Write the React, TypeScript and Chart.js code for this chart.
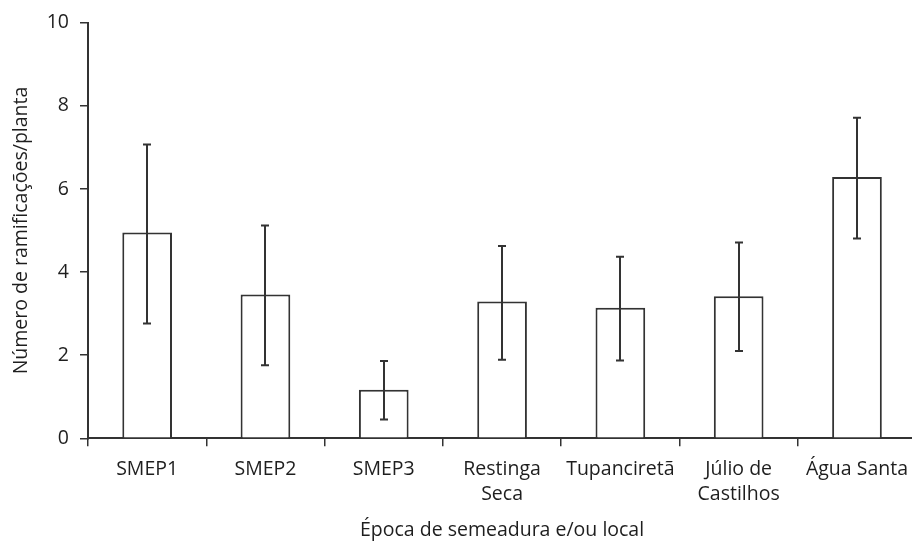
import React, { useEffect, useRef } from "react";
import { Chart, registerables } from "chart.js";

Chart.register(...registerables);

// Branch count per plant, by sowing date / location
const categories: (string | string[])[] = [
  "SMEP1",
  "SMEP2",
  "SMEP3",
  ["Restinga", "Seca"],
  "Tupanciretã",
  ["Júlio de", "Castilhos"],
  "Água Santa",
];
const means = [4.95, 3.46, 1.17, 3.29, 3.14, 3.42, 6.29];
const errUpper = [7.07, 5.12, 1.86, 4.63, 4.37, 4.71, 7.71];
const errLower = [2.76, 1.76, 0.45, 1.89, 1.87, 2.1, 4.81];
const yTicks = [0, 2, 4, 6, 8, 10];

const INK = "#333333";
const TEXT = "#1e1e1e";
const FONT = "'Open Sans', 'Noto Sans', sans-serif";

// Vertical whiskers with caps, positioned from the bar elements and the y scale
const errorBars = {
  id: "errorBars",
  afterDatasetsDraw(chart: any) {
    const meta = chart.getDatasetMeta(0);
    const y = chart.scales.y;
    const ctx = chart.ctx;
    ctx.save();
    ctx.strokeStyle = INK;
    ctx.lineWidth = 2;
    meta.data.forEach((bar: any, i: number) => {
      const x = Math.round(bar.x);
      const yHi = y.getPixelForValue(errUpper[i]);
      const yLo = y.getPixelForValue(errLower[i]);
      const cap = 4;
      ctx.beginPath();
      ctx.moveTo(x, yHi);
      ctx.lineTo(x, yLo);
      ctx.moveTo(x - cap, yHi);
      ctx.lineTo(x + cap, yHi);
      ctx.moveTo(x - cap, yLo);
      ctx.lineTo(x + cap, yLo);
      ctx.stroke();
    });
    ctx.restore();
  },
};

export default function App() {
  const canvasRef = useRef<HTMLCanvasElement | null>(null);

  useEffect(() => {
    if (!canvasRef.current) return;
    const chart = new Chart(canvasRef.current, {
      type: "bar",
      data: {
        labels: categories,
        datasets: [
          {
            data: means,
            backgroundColor: "#ffffff",
            borderColor: INK,
            borderWidth: 2,
            categoryPercentage: 1,
            barPercentage: 0.42,
          },
        ],
      },
      options: {
        animation: false,
        responsive: false,
        maintainAspectRatio: false,
        layout: { padding: { top: 20, left: 0, right: 0, bottom: 0 } },
        plugins: {
          legend: { display: false },
          tooltip: { enabled: false },
        },
        scales: {
          x: {
            afterFit: (s: any) => {
              s.height = 103.7;
            },
            grid: {
              offset: true,
              drawOnChartArea: false,
              drawTicks: true,
              tickLength: 8,
              color: INK,
              lineWidth: 1.5,
            },
            border: { display: true, color: INK, width: 2 },
            ticks: {
              color: TEXT,
              padding: 11,
              maxRotation: 0,
              autoSkip: false,
              font: { family: FONT, size: 19.5, lineHeight: 1.28 },
            },
            title: {
              display: true,
              text: "Época de semeadura e/ou local",
              color: TEXT,
              font: { family: FONT, size: 19.5, lineHeight: 1.15 },
              padding: { top: 14, bottom: 0 },
            },
          },
          y: {
            min: 0,
            max: 10,
            afterFit: (s: any) => {
              s.width = 88;
            },
            afterBuildTicks: (s: any) => {
              s.ticks = yTicks.map((v) => ({ value: v }));
            },
            grid: {
              drawOnChartArea: false,
              drawTicks: true,
              tickLength: 8,
              color: INK,
              lineWidth: 1.5,
            },
            border: { display: true, color: INK, width: 2 },
            ticks: {
              color: TEXT,
              padding: 11,
              font: { family: FONT, size: 19.5 },
            },
            title: {
              display: true,
              text: "Número de ramificações/planta",
              color: TEXT,
              font: { family: FONT, size: 19.5, lineHeight: 1.15 },
              padding: { top: 10, bottom: 0 },
            },
          },
        },
      },
      plugins: [errorBars],
    });
    return () => chart.destroy();
  }, []);

  return (
    <div
      style={{
        position: "absolute",
        left: 0,
        top: 0,
        width: 912,
        height: 542,
        overflow: "hidden",
        background: "#ffffff",
      }}
    >
      <canvas
        ref={canvasRef}
        width={919}
        height={542}
        style={{ display: "block", width: 919, height: 542 }}
      />
    </div>
  );
}
